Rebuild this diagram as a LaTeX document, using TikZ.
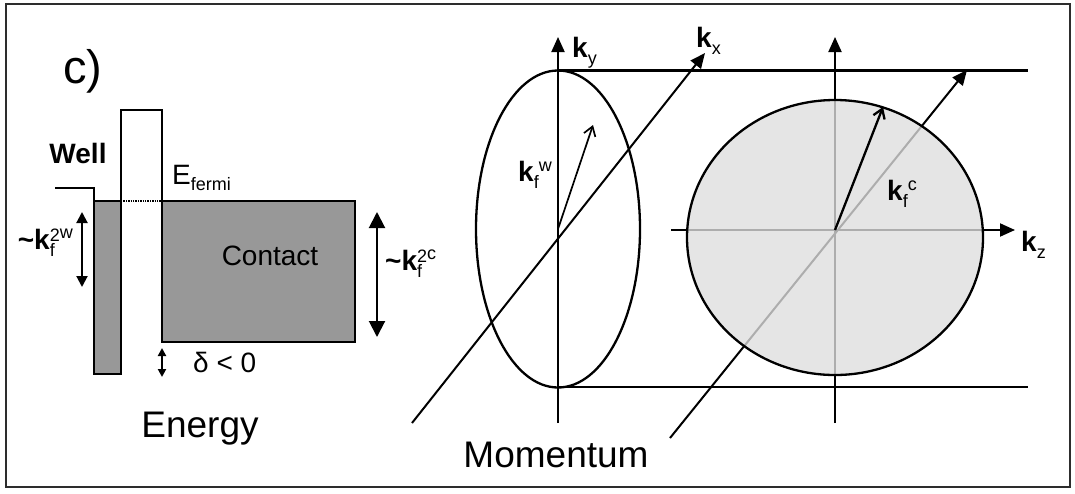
\documentclass[tikz,border=0pt]{standalone}
\usepackage{fontspec}
\setmainfont{Liberation Sans}
\usetikzlibrary{arrows.meta,positioning,calc}
\definecolor{band}{RGB}{152,152,152}
\definecolor{fermisea}{RGB}{222,222,222}
\definecolor{rim}{RGB}{45,45,45}
\newcommand{\sml}{\fontsize{18}{18}\selectfont}
\newcommand{\kfermi}[1]{\textbf{k}\raisebox{-7pt}{\sml f}\raisebox{10pt}{\sml #1}}
\newcommand{\kfermisq}[1]{\textbf{\textasciitilde k}\rlap{\raisebox{-7pt}{\sml f}}\raisebox{8pt}{\sml 2}\raisebox{11pt}{\sml #1}}
\newcommand{\kaxis}[1]{\textbf{k}\raisebox{-7pt}{\sml #1}}

\begin{document}
\begin{tikzpicture}[x=1pt,y=-1pt,
  lbl/.style={font=\fontsize{28}{30}\selectfont,inner sep=0pt},
  bigtxt/.style={font=\fontsize{37}{40}\selectfont,inner sep=0pt},
  bandline/.style={line width=2.3pt},
  kaxisline/.style={line width=2pt,-{Triangle[length=15pt,width=13pt]}},
  twohead/.style={line width=2pt,{Triangle[length=#1,width=#1]}-{Triangle[length=#1,width=#1]}},
  kvec/.style={line width=1.7pt,-{Straight Barb[length=9pt,width=12pt]}}]
  \useasboundingbox (0,0) rectangle (1075,493);
  \draw[rim,line width=2.4pt] (6,4) rectangle (1070,487);

  % energy panel
  \node[font=\fontsize{47}{50}\selectfont,inner sep=0pt,anchor=base] (panel) at (83,83) {c)};
  \draw[bandline,fill=band] (94,201) rectangle (121,374);
  \draw[bandline,fill=band] (162,201) rectangle (355,342);
  \draw[bandline] (55,188) -- (94,188) -- (94,201);
  \draw[bandline] (121,201) -- (121,110) -- (162,110) -- (162,201);
  \draw[densely dotted,line width=1.4pt] (121,201) -- (162,201);
  \node[lbl,anchor=base] (well) at (78,163) {\textbf{Well}};
  \node[lbl,anchor=base west] (efermi) at (172,184) {E\raisebox{-6pt}{\sml fermi}};
  \node[lbl,anchor=base] (contact) at (270,265) {Contact};

  \coordinate (kwtop) at (82,212);
  \coordinate (kwbot) at (82,287);
  \draw[twohead=11pt] (kwtop) -- (kwbot);
  \node[lbl,anchor=base east] (kwlbl) at (73,249) {\kfermisq{w}};
  \coordinate (kctop) at (377,212);
  \coordinate (kcbot) at (377,337);
  \draw[twohead=16pt] (kctop) -- (kcbot);
  \node[lbl,anchor=base west] (kclbl) at (385,270) {\kfermisq{c}};
  \coordinate (dtop) at (162,348);
  \coordinate (dbot) at (162,377);
  \draw[twohead=8pt] (dtop) -- (dbot);
  \node[lbl,anchor=base west] (delta) at (193,372) {δ < 0};
  \node[bigtxt,anchor=base] (energy) at (200,437) {Energy};

  % momentum panel
  \coordinate (wo) at (558,229);
  \coordinate (co) at (835,230);
  \draw[bandline] (wo) ellipse (82 and 158.5);
  \draw[bandline] (558,70.5) -- (1028,70.5);
  \draw[bandline] (558,387) -- (1028,387);
  \draw[kaxisline] (558,423) -- (558,37);
  \draw[kaxisline] (412,423) -- (705,53);
  \draw[kvec] (wo) -- (593,125);
  \node[lbl,anchor=base west] (ky) at (572,57) {\kaxis{y}};
  \node[lbl,anchor=base west] (kx) at (696,47) {\kaxis{x}};
  \node[lbl,anchor=base west] (kfw) at (518,181) {\kfermi{w}};

  \draw[kaxisline] (835,423) -- (835,37);
  \draw[kaxisline] (671,230) -- (1015,230);
  \draw[kaxisline] (670,438) -- (967,70);
  \fill[fermisea,fill opacity=0.78] (835,237.5) ellipse (148 and 137.5);
  \draw[bandline] (835,237.5) ellipse (148 and 137.5);
  \draw[kvec,line width=2.3pt] (co) -- (883,107);
  \node[lbl,anchor=base west] (kz) at (1021,251) {\kaxis{z}};
  \node[lbl,anchor=base west] (kfc) at (887,200) {\kfermi{c}};
  \node[bigtxt,anchor=base] (momentum) at (556,467) {Momentum};
\end{tikzpicture}
\end{document}
